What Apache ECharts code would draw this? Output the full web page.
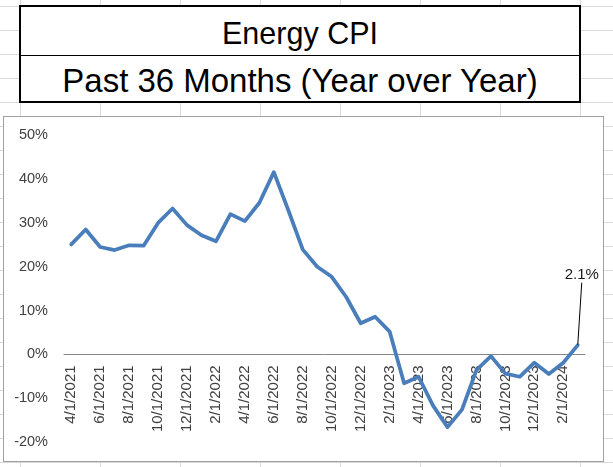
<!DOCTYPE html>
<html>
<head>
<meta charset="utf-8">
<script src="https://cdn.jsdelivr.net/npm/echarts@6/dist/echarts.min.js"></script>
<style>
  html, body { margin: 0; padding: 0; }
  body {
    width: 613px; height: 467px; position: relative; overflow: hidden;
    background-color: #fff;
    background-image:
      linear-gradient(to right, #d9d9d9 1px, transparent 1px),
      linear-gradient(to bottom, #d9d9d9 1px, transparent 1px);
    background-size: 80px 100%, 100% 24px;
    background-position: 20px 0, 0 6px;
  }
  #titleBox {
    position: absolute; left: 19px; top: 5px; width: 558px; height: 94px;
    border: 2px solid #000; background: #fff;
  }
  #divider { position: absolute; left: 0; right: 0; top: 48px; height: 1px; background: #000; }
  .ttl {
    position: absolute; left: 0; right: 0; text-align: center; white-space: nowrap;
    font-family: "Liberation Sans", Arial, sans-serif; color: #000; line-height: 1;
  }
  #chart { position: absolute; left: 3px; top: 116px; width: 601px; height: 346px; background: #fff; }
  #chartBorder {
    position: absolute; left: 3px; top: 116px; width: 601px; height: 346px;
    box-sizing: border-box; border: 1px solid #a0a0a0; pointer-events: none;
  }
</style>
</head>
<body>
<div id="titleBox">
  <div id="divider"></div>
  <div class="ttl" id="t1">Energy CPI</div>
  <div class="ttl" id="t2">Past 36 Months (Year over Year)</div>
</div>
<div id="chart"></div>
<div id="chartBorder"></div>
<script>
// ---- data ----
const months = [
  '4/1/2021','5/1/2021','6/1/2021','7/1/2021','8/1/2021','9/1/2021',
  '10/1/2021','11/1/2021','12/1/2021','1/1/2022','2/1/2022','3/1/2022',
  '4/1/2022','5/1/2022','6/1/2022','7/1/2022','8/1/2022','9/1/2022',
  '10/1/2022','11/1/2022','12/1/2022','1/1/2023','2/1/2023','3/1/2023',
  '4/1/2023','5/1/2023','6/1/2023','7/1/2023','8/1/2023','9/1/2023',
  '10/1/2023','11/1/2023','12/1/2023','1/1/2024','2/1/2024','3/1/2024'
];
const energyYoY = [
  0.251, 0.285, 0.245, 0.238, 0.249, 0.248,
  0.300, 0.333, 0.295, 0.272, 0.258, 0.320,
  0.304, 0.346, 0.416, 0.329, 0.239, 0.200,
  0.177, 0.131, 0.071, 0.086, 0.052, -0.066,
  -0.051, -0.117, -0.166, -0.126, -0.036, -0.004,
  -0.044, -0.051, -0.019, -0.045, -0.019, 0.021
];
const titleText = 'Energy CPI';
const subtitleText = 'Past 36 Months (Year over Year)';
const yMin = -0.2, yMax = 0.5, yStep = 0.1;

// ---- title box (HTML text fitted to reference widths) ----
function fitTitle(el, text, targetWidth, baselineY) {
  el.textContent = text;
  const c = document.createElement('canvas').getContext('2d');
  c.font = '100px "Liberation Sans"';
  const w = c.measureText(text).width;
  const fs = 100 * targetWidth / w;
  el.style.fontSize = fs + 'px';
  el.style.top = (baselineY - 0.8465 * fs) + 'px';
}
fitTitle(document.getElementById('t1'), titleText, 156, 43.5 - 7);
fitTitle(document.getElementById('t2'), subtitleText, 476, 91.5 - 7);

// ---- chart ----
const FONT = '"Liberation Sans", Arial, sans-serif';
const chart = echarts.init(document.getElementById('chart'), null, { renderer: 'canvas' });
const lastIdx = energyYoY.length - 1;
const seriesData = energyYoY.map((v, i) => i === lastIdx
  ? { value: v, label: { show: true }, labelLine: { show: true } }
  : v);

const option = {
  animation: false,
  backgroundColor: '#fff',
  textStyle: { fontFamily: FONT },
  grid: { left: 61, right: 19, top: 19.3, bottom: 20, containLabel: false, outerBoundsMode: 'none' },
  xAxis: {
    type: 'category',
    data: months,
    boundaryGap: true,
    position: 'bottom',
    offset: 0,
    axisLine: { show: true, onZero: false, lineStyle: { color: '#868686', width: 1 } },
    axisTick: { show: false },
    axisLabel: {
      rotate: 90, interval: 1, margin: 11,
      fontSize: 15, color: '#404040', fontFamily: FONT
    },
    splitLine: { show: false }
  },
  yAxis: {
    type: 'value',
    min: yMin, max: yMax, interval: yStep,
    axisLine: { show: false },
    axisTick: { show: false },
    splitLine: { show: false },
    axisLabel: {
      margin: 16, fontSize: 14.5, color: '#404040', fontFamily: FONT,
      formatter: v => Math.round(v * 100) + '%'
    }
  },
  series: [{
    type: 'line',
    data: seriesData,
    symbol: 'circle',
    symbolSize: 1,
    showSymbol: true,
    showAllSymbol: true,
    lineStyle: { color: '#4a7ebb', width: 3.75, cap: 'round', join: 'round' },
    itemStyle: { color: '#4a7ebb' },
    label: {
      show: false,
      position: 'top',
      fontSize: 15,
      color: '#1a1a1a',
      fontFamily: FONT,
      formatter: p => (p.value * 100).toFixed(1) + '%'
    },
    labelLine: { show: true, lineStyle: { color: '#000', width: 1 } },
    labelLayout: { dx: 4, dy: -57 }
  }]
};
chart.setOption(option);

// Move the category axis (line + labels) to the zero crossing using the library's own scale
const zeroY = chart.convertToPixel({ yAxisIndex: 0 }, 0);
const bottomY = chart.convertToPixel({ yAxisIndex: 0 }, yMin);
chart.setOption({ xAxis: { offset: zeroY - bottomY } });
</script>
</body>
</html>
